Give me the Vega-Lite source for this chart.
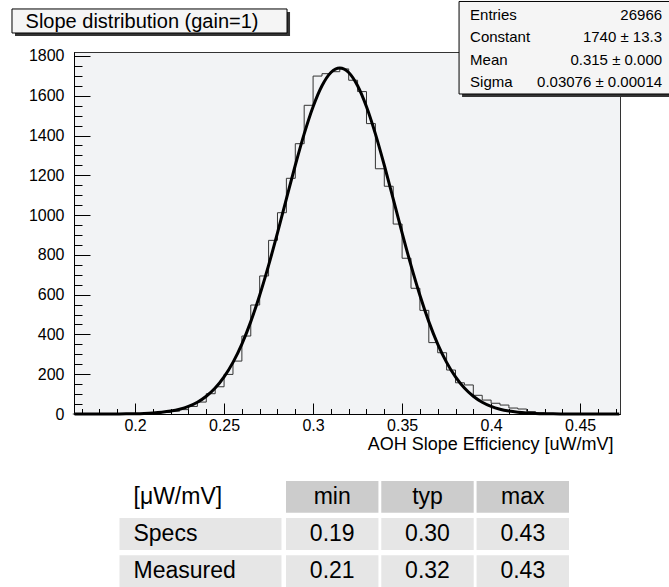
{
  "$schema": "https://vega.github.io/schema/vega-lite/v6.json",
  "padding": {"left": 10, "top": 0, "right": 0, "bottom": 0},
  "background": "white",
  "config": {"view": {"stroke": null}, "font": "Liberation Sans"},
  "datasets": {
    "hist": [
      {"bin":0.165,"count":0},{"bin":0.17,"count":0},{"bin":0.175,"count":0},{"bin":0.18,"count":0},{"bin":0.185,"count":0},
      {"bin":0.19,"count":1},{"bin":0.195,"count":1},{"bin":0.2,"count":2},{"bin":0.205,"count":3},{"bin":0.21,"count":5},
      {"bin":0.215,"count":8},{"bin":0.22,"count":14},{"bin":0.225,"count":22},{"bin":0.23,"count":38},{"bin":0.235,"count":60},
      {"bin":0.24,"count":102},{"bin":0.245,"count":137},{"bin":0.25,"count":199},{"bin":0.255,"count":266},{"bin":0.26,"count":392},
      {"bin":0.265,"count":548},{"bin":0.27,"count":694},{"bin":0.275,"count":873},{"bin":0.28,"count":1012},{"bin":0.285,"count":1185},
      {"bin":0.29,"count":1359},{"bin":0.295,"count":1552},{"bin":0.3,"count":1699},{"bin":0.305,"count":1711},{"bin":0.31,"count":1721},
      {"bin":0.315,"count":1735},{"bin":0.32,"count":1678},{"bin":0.325,"count":1621},{"bin":0.33,"count":1460},{"bin":0.335,"count":1233},
      {"bin":0.34,"count":1145},{"bin":0.345,"count":955},{"bin":0.35,"count":783},{"bin":0.355,"count":632},{"bin":0.36,"count":521},
      {"bin":0.365,"count":359},{"bin":0.37,"count":308},{"bin":0.375,"count":221},{"bin":0.38,"count":157},{"bin":0.385,"count":146},
      {"bin":0.39,"count":94},{"bin":0.395,"count":70},{"bin":0.4,"count":54},{"bin":0.405,"count":45},{"bin":0.41,"count":30},
      {"bin":0.415,"count":25},{"bin":0.42,"count":12},{"bin":0.425,"count":6},{"bin":0.43,"count":3},{"bin":0.435,"count":2},
      {"bin":0.44,"count":1},{"bin":0.445,"count":1},{"bin":0.45,"count":0},{"bin":0.455,"count":0},{"bin":0.46,"count":0},
      {"bin":0.465,"count":0},{"bin":0.47,"count":0}
    ],
    "fit": [
      {"x":0.166,"fit":0},{"x":0.17,"fit":0},{"x":0.175,"fit":0.05},{"x":0.18,"fit":0.1},{"x":0.185,"fit":0.2},{"x":0.19,"fit":0.5},
      {"x":0.195,"fit":0.9},{"x":0.2,"fit":1.6},{"x":0.205,"fit":2.9},{"x":0.21,"fit":5.1},{"x":0.215,"fit":8.8},
      {"x":0.22,"fit":14.8},{"x":0.225,"fit":24.1},{"x":0.23,"fit":38.2},{"x":0.235,"fit":59.1},{"x":0.24,"fit":89.1},
      {"x":0.245,"fit":130.7},{"x":0.25,"fit":186.6},{"x":0.255,"fit":259.6},{"x":0.26,"fit":351.8},{"x":0.265,"fit":464.4},
      {"x":0.27,"fit":596.8},{"x":0.275,"fit":747.0},{"x":0.28,"fit":910.8},{"x":0.285,"fit":1081.4},{"x":0.29,"fit":1250.6},
      {"x":0.295,"fit":1408.5},{"x":0.3,"fit":1545.0},{"x":0.305,"fit":1650.4},{"x":0.31,"fit":1717.2},{"x":0.315,"fit":1740},
      {"x":0.32,"fit":1717.2},{"x":0.325,"fit":1650.4},{"x":0.33,"fit":1545.0},{"x":0.335,"fit":1408.5},{"x":0.34,"fit":1250.6},
      {"x":0.345,"fit":1081.4},{"x":0.35,"fit":910.8},{"x":0.355,"fit":747.0},{"x":0.36,"fit":596.8},{"x":0.365,"fit":464.4},
      {"x":0.37,"fit":351.8},{"x":0.375,"fit":259.6},{"x":0.38,"fit":186.6},{"x":0.385,"fit":130.7},{"x":0.39,"fit":89.1},
      {"x":0.395,"fit":59.1},{"x":0.4,"fit":38.2},{"x":0.405,"fit":24.1},{"x":0.41,"fit":14.8},{"x":0.415,"fit":8.8},
      {"x":0.42,"fit":5.1},{"x":0.425,"fit":2.9},{"x":0.43,"fit":1.6},{"x":0.435,"fit":0.9},{"x":0.44,"fit":0.5},
      {"x":0.445,"fit":0.2},{"x":0.45,"fit":0.1},{"x":0.455,"fit":0.05},{"x":0.46,"fit":0},{"x":0.465,"fit":0},{"x":0.472,"fit":0}
    ],
    "tlabels": [
      {"row":"head","label":"[μW/mV]"},
      {"row":"Specs","label":"Specs"},
      {"row":"Measured","label":"Measured"}
    ],
    "tvalues": [
      {"row":"head","col":"min","val":"min"},{"row":"head","col":"typ","val":"typ"},{"row":"head","col":"max","val":"max"},
      {"row":"Specs","col":"min","val":"0.19"},{"row":"Specs","col":"typ","val":"0.30"},{"row":"Specs","col":"max","val":"0.43"},
      {"row":"Measured","col":"min","val":"0.21"},{"row":"Measured","col":"typ","val":"0.32"},{"row":"Measured","col":"max","val":"0.43"}
    ]
  },
  "bounds": "flush",
  "spacing": 67,
  "vconcat": [
    {
      "width": 546,
      "height": 362,
      "view": {"fill": "#f2f3f5", "stroke": "#333333", "strokeWidth": 1},
      "resolve": {"axis": {"x": "independent", "y": "independent"}},
      "layer": [
        {
          "data": {"name": "hist"},
          "mark": {"type": "line", "interpolate": "step-after", "color": "#333333", "strokeWidth": 1},
          "encoding": {
            "x": {"field": "bin", "type": "quantitative",
              "scale": {"domain": [0.1657, 0.4724], "nice": false, "zero": false},
              "axis": {"orient": "bottom", "values": [0.2, 0.25, 0.3, 0.35, 0.4, 0.45], "format": ".2~f",
                "tickSize": -11, "tickColor": "black", "domainColor": "black", "grid": false,
                "labelFontSize": 16, "labelColor": "black", "labelPadding": 14, "labelFlush": false, "labelOverlap": false,
                "title": "AOH Slope Efficiency [uW/mV]", "titleAnchor": "end", "titleAlign": "right", "titleX": 539, "titleFontWeight": "normal",
                "titleFontSize": 18, "titleColor": "black", "titlePadding": 2}},
            "y": {"field": "count", "type": "quantitative",
              "scale": {"domain": [0, 1820], "nice": false},
              "axis": {"orient": "left", "values": [0, 200, 400, 600, 800, 1000, 1200, 1400, 1600, 1800], "format": "d",
                "tickSize": -16, "tickColor": "black", "domainColor": "black", "grid": false,
                "labelFontSize": 16, "labelColor": "black", "labelPadding": 26, "labelFlush": false, "labelOverlap": false,
                "title": null}}
          }
        },
        {
          "data": {"name": "fit"},
          "mark": {"type": "line", "interpolate": "monotone", "color": "black", "strokeWidth": 3},
          "encoding": {
            "x": {"field": "x", "type": "quantitative",
              "scale": {"domain": [0.1657, 0.4724], "nice": false, "zero": false},
              "axis": {"orient": "bottom", "values": [0.17,0.18,0.19,0.2,0.21,0.22,0.23,0.24,0.25,0.26,0.27,0.28,0.29,0.3,0.31,0.32,0.33,0.34,0.35,0.36,0.37,0.38,0.39,0.4,0.41,0.42,0.43,0.44,0.45,0.46,0.47],
                "tickSize": -5.5, "tickColor": "black", "domainColor": "black", "grid": false, "labels": false, "title": null}},
            "y": {"field": "fit", "type": "quantitative",
              "scale": {"domain": [0, 1820], "nice": false},
              "axis": {"orient": "left", "values": [50,100,150,200,250,300,350,400,450,500,550,600,650,700,750,800,850,900,950,1000,1050,1100,1150,1200,1250,1300,1350,1400,1450,1500,1550,1600,1650,1700,1750,1800],
                "tickSize": -8, "tickColor": "black", "domainColor": "black", "grid": false, "labels": false, "title": null}}
          }
        },
        {
          "data": {"values": [{}]},
          "mark": {"type": "rect", "fill": "#333333"},
          "encoding": {
            "x": {"datum": 0.13256, "type": "quantitative", "axis": null}, "x2": {"datum": 0.28705},
            "y": {"datum": 2021.2, "type": "quantitative", "axis": null}, "y2": {"datum": 1900.5}
          }
        },
        {
          "data": {"values": [{}]},
          "mark": {"type": "rect", "fill": "#f5f5f5", "stroke": "black", "strokeWidth": 1},
          "encoding": {
            "x": {"datum": 0.13087, "type": "quantitative", "axis": null}, "x2": {"datum": 0.28536},
            "y": {"datum": 2036.3, "type": "quantitative", "axis": null}, "y2": {"datum": 1915.6}
          }
        },
        {
          "data": {"values": [{}]},
          "mark": {"type": "text", "align": "left", "baseline": "middle", "fontSize": 20, "color": "black", "text": "Slope distribution (gain=1)"},
          "encoding": {
            "x": {"datum": 0.1385, "type": "quantitative", "axis": null},
            "y": {"datum": 1970.9, "type": "quantitative", "axis": null}
          }
        },
        {
          "data": {"values": [{}]},
          "mark": {"type": "rect", "fill": "#333333"},
          "encoding": {
            "x": {"datum": 0.38368, "type": "quantitative", "axis": null}, "x2": {"datum": 0.5011},
            "y": {"datum": 2061.4, "type": "quantitative", "axis": null}, "y2": {"datum": 1593.8}
          }
        },
        {
          "data": {"values": [{}]},
          "mark": {"type": "rect", "fill": "#f5f5f5"},
          "encoding": {
            "x": {"datum": 0.38199, "type": "quantitative", "axis": null}, "x2": {"datum": 0.5011},
            "y": {"datum": 2074, "type": "quantitative", "axis": null}, "y2": {"datum": 1608.9}
          }
        },
        {
          "data": {"values": [{}]},
          "mark": {"type": "rule", "color": "black", "strokeWidth": 1},
          "encoding": {
            "x": {"datum": 0.38199, "type": "quantitative", "axis": null},
            "y": {"datum": 2074, "type": "quantitative", "axis": null}, "y2": {"datum": 1608.9}
          }
        },
        {
          "data": {"values": [{}]},
          "mark": {"type": "rule", "color": "black", "strokeWidth": 1},
          "encoding": {
            "x": {"datum": 0.38199, "type": "quantitative", "axis": null}, "x2": {"datum": 0.5011},
            "y": {"datum": 2074, "type": "quantitative", "axis": null}
          }
        },
        {
          "data": {"values": [{}]},
          "mark": {"type": "rule", "color": "black", "strokeWidth": 1},
          "encoding": {
            "x": {"datum": 0.38199, "type": "quantitative", "axis": null}, "x2": {"datum": 0.5011},
            "y": {"datum": 1608.9, "type": "quantitative", "axis": null}
          }
        },
        {
          "data": {"values": [{}]},
          "mark": {"type": "text", "align": "left", "baseline": "middle", "fontSize": 15, "lineHeight": 22.3, "color": "black",
            "text": ["Entries", "Constant", "Mean", "Sigma"]},
          "encoding": {
            "x": {"datum": 0.38817, "type": "quantitative", "axis": null},
            "y": {"datum": 2006.1, "type": "quantitative", "axis": null}
          }
        },
        {
          "data": {"values": [{}]},
          "mark": {"type": "text", "align": "right", "baseline": "middle", "fontSize": 15, "lineHeight": 22.3, "color": "black",
            "text": ["26966", "1740 ± 13.3", "0.315 ± 0.000", "0.03076 ± 0.00014"]},
          "encoding": {
            "x": {"datum": 0.49603, "type": "quantitative", "axis": null},
            "y": {"datum": 2006.1, "type": "quantitative", "axis": null}
          }
        }
      ]
    },
    {
      "width": 495,
      "height": 106,
      "resolve": {"scale": {"x": "independent", "color": "independent"}},
      "layer": [
        {
          "data": {"name": "tlabels"},
          "mark": {"type": "rect"},
          "encoding": {
            "x": {"datum": "label", "type": "nominal", "scale": {"type": "band", "domain": ["label"], "paddingInner": 0.027, "paddingOuter": 1, "align": 0.1366}, "axis": null},
            "y": {"field": "row", "type": "nominal", "scale": {"domain": ["head", "Specs", "Measured"], "paddingInner": 0.14, "paddingOuter": 0}, "axis": null},
            "color": {"field": "row", "type": "nominal", "scale": {"domain": ["head", "Specs", "Measured"], "range": ["#ffffff", "#e6e6e6", "#e6e6e6"]}, "legend": null}
          }
        },
        {
          "data": {"name": "tlabels"},
          "mark": {"type": "text", "align": "left", "baseline": "middle", "dx": 14, "fontSize": 23, "color": "black"},
          "encoding": {
            "x": {"datum": "label", "type": "nominal", "bandPosition": 0, "scale": {"type": "band", "domain": ["label"], "paddingInner": 0.027, "paddingOuter": 1, "align": 0.1366}, "axis": null},
            "y": {"field": "row", "type": "nominal", "scale": {"domain": ["head", "Specs", "Measured"], "paddingInner": 0.14, "paddingOuter": 0}, "axis": null},
            "text": {"field": "label"}
          }
        },
        {
          "data": {"name": "tvalues"},
          "mark": {"type": "rect"},
          "encoding": {
            "x": {"field": "col", "type": "nominal", "scale": {"type": "band", "domain": ["d1", "d2", "min", "typ", "max"], "paddingInner": 0.03, "paddingOuter": 0.1124, "align": 1}, "axis": null},
            "y": {"field": "row", "type": "nominal", "scale": {"domain": ["head", "Specs", "Measured"], "paddingInner": 0.14, "paddingOuter": 0}, "axis": null},
            "color": {"field": "row", "type": "nominal", "scale": {"domain": ["head", "Specs", "Measured"], "range": ["#cccccc", "#e6e6e6", "#e6e6e6"]}, "legend": null}
          }
        },
        {
          "data": {"name": "tvalues"},
          "mark": {"type": "text", "align": "center", "baseline": "middle", "fontSize": 23, "color": "black"},
          "encoding": {
            "x": {"field": "col", "type": "nominal", "scale": {"type": "band", "domain": ["d1", "d2", "min", "typ", "max"], "paddingInner": 0.03, "paddingOuter": 0.1124, "align": 1}, "axis": null},
            "y": {"field": "row", "type": "nominal", "scale": {"domain": ["head", "Specs", "Measured"], "paddingInner": 0.14, "paddingOuter": 0}, "axis": null},
            "text": {"field": "val"}
          }
        }
      ]
    }
  ]
}
